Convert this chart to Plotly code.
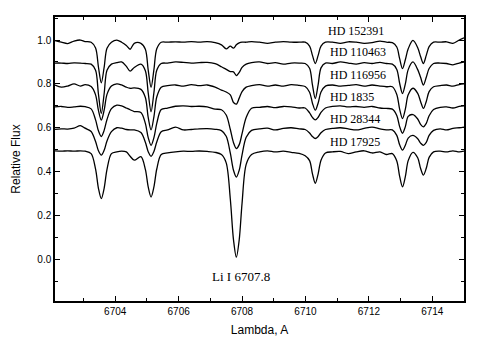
import plotly.graph_objects as go

# Wavelength grid (Angstrom), denser around the absorption lines
wl = [
    6702.10, 6702.30, 6702.50, 6702.70, 6702.90, 6703.05, 6703.24,
    6703.38, 6703.47, 6703.56, 6703.65, 6703.74, 6703.88,
    6704.05, 6704.20, 6704.35, 6704.47, 6704.60, 6704.81,
    6704.95, 6705.04, 6705.13, 6705.22, 6705.31, 6705.45,
    6705.65, 6705.90, 6706.15, 6706.40, 6706.65, 6706.90, 6707.15, 6707.35,
    6707.50, 6707.63, 6707.73, 6707.82, 6707.91, 6708.00, 6708.13, 6708.30,
    6708.55, 6708.80, 6709.05, 6709.30, 6709.55, 6709.80,
    6709.99, 6710.13, 6710.22, 6710.31, 6710.40, 6710.49, 6710.63,
    6710.85, 6711.10, 6711.35, 6711.60, 6711.85, 6712.10, 6712.35, 6712.55,
    6712.74, 6712.88, 6712.97, 6713.06, 6713.15, 6713.24, 6713.39,
    6713.54, 6713.63, 6713.72, 6713.81, 6713.90, 6714.04,
    6714.25, 6714.45, 6714.65, 6714.85, 6715.00,
]

# Shifted relative flux of each star
hd152391 = [
    0.997, 0.990, 0.984, 0.995, 1.000, 0.993, 0.990,
    0.964, 0.877, 0.805, 0.875, 0.963, 0.990,
    1.000, 0.990, 0.975, 0.958, 0.985, 0.985,
    0.958, 0.863, 0.784, 0.865, 0.960, 0.990,
    0.990, 0.992, 0.990, 0.993, 0.990, 0.993, 0.988, 0.978,
    0.960, 0.972, 0.963, 0.978, 0.987, 0.990, 0.990, 0.993,
    0.990, 0.985, 0.990, 0.993, 0.990, 0.990,
    0.990, 0.972, 0.930, 0.893, 0.930, 0.972, 0.990,
    0.990, 0.985, 0.992, 0.990, 0.985, 0.988, 0.995, 0.990,
    0.988, 0.968, 0.915, 0.870, 0.910, 0.960, 0.998,
    0.965, 0.925, 0.893, 0.930, 0.970, 0.990,
    0.990, 0.992, 0.985, 1.000, 1.010,
]
hd110463 = [
    0.895, 0.895, 0.893, 0.896, 0.895, 0.893, 0.890,
    0.862, 0.754, 0.665, 0.755, 0.862, 0.890,
    0.897, 0.900, 0.880, 0.858, 0.875, 0.890,
    0.860, 0.759, 0.673, 0.760, 0.862, 0.893,
    0.895, 0.900, 0.898, 0.895, 0.897, 0.898, 0.892, 0.878,
    0.866, 0.856, 0.855, 0.838, 0.852, 0.875, 0.890, 0.897,
    0.900, 0.893, 0.897, 0.890, 0.895, 0.895,
    0.893, 0.871, 0.795, 0.733, 0.797, 0.873, 0.895,
    0.893, 0.900, 0.895, 0.890, 0.897, 0.893, 0.898, 0.893,
    0.890, 0.866, 0.803, 0.756, 0.800, 0.865, 0.900,
    0.865, 0.830, 0.795, 0.830, 0.870, 0.893,
    0.895, 0.893, 0.887, 0.895, 0.900,
]
hd116956 = [
    0.795, 0.785, 0.790, 0.800, 0.790, 0.797, 0.788,
    0.750, 0.679, 0.635, 0.680, 0.752, 0.790,
    0.800, 0.795, 0.785, 0.780, 0.782, 0.775,
    0.738, 0.647, 0.590, 0.650, 0.740, 0.785,
    0.792, 0.795, 0.790, 0.797, 0.792, 0.795, 0.785, 0.772,
    0.763, 0.750, 0.715, 0.708, 0.735, 0.765, 0.785, 0.792,
    0.797, 0.790, 0.795, 0.790, 0.797, 0.793,
    0.788, 0.762, 0.712, 0.680, 0.713, 0.763, 0.790,
    0.795, 0.790, 0.793, 0.797, 0.790, 0.795, 0.790, 0.787,
    0.787, 0.752, 0.685, 0.642, 0.685, 0.750, 0.780,
    0.757, 0.720, 0.688, 0.720, 0.765, 0.787,
    0.792, 0.795, 0.790, 0.797, 0.800,
]
hd1835 = [
    0.695, 0.697, 0.693, 0.695, 0.698, 0.696, 0.686,
    0.636, 0.586, 0.560, 0.588, 0.638, 0.687,
    0.703, 0.700, 0.690, 0.682, 0.674, 0.670,
    0.620, 0.555, 0.520, 0.555, 0.620, 0.683,
    0.690, 0.698, 0.700, 0.697, 0.698, 0.695, 0.685, 0.682,
    0.658, 0.592, 0.532, 0.505, 0.523, 0.573, 0.647, 0.689,
    0.693, 0.697, 0.692, 0.697, 0.695, 0.690,
    0.690, 0.668, 0.647, 0.636, 0.648, 0.670, 0.690,
    0.697, 0.700, 0.695, 0.697, 0.693, 0.697, 0.690, 0.688,
    0.685, 0.656, 0.605, 0.575, 0.605, 0.652, 0.660,
    0.640, 0.615, 0.604, 0.620, 0.655, 0.683,
    0.693, 0.695, 0.690, 0.697, 0.700,
]
hd28344 = [
    0.593, 0.595, 0.594, 0.598, 0.610, 0.598, 0.583,
    0.537, 0.495, 0.475, 0.497, 0.540, 0.582,
    0.600, 0.598, 0.592, 0.590, 0.590, 0.578,
    0.534, 0.491, 0.470, 0.492, 0.535, 0.582,
    0.590, 0.603, 0.590, 0.592, 0.595, 0.596, 0.593, 0.587,
    0.561, 0.484, 0.406, 0.375, 0.406, 0.476, 0.557, 0.588,
    0.595, 0.598, 0.590, 0.597, 0.600, 0.595,
    0.592, 0.576, 0.560, 0.551, 0.560, 0.577, 0.592,
    0.597, 0.600, 0.595, 0.590, 0.597, 0.603, 0.595, 0.590,
    0.590, 0.565, 0.522, 0.498, 0.520, 0.553, 0.565,
    0.550, 0.530, 0.520, 0.533, 0.565, 0.588,
    0.595, 0.590, 0.597, 0.600, 0.603,
]
hd17925 = [
    0.495, 0.493, 0.495, 0.493, 0.495, 0.493, 0.482,
    0.411, 0.324, 0.277, 0.324, 0.410, 0.482,
    0.490, 0.493, 0.490, 0.470, 0.452, 0.468,
    0.410, 0.330, 0.284, 0.330, 0.412, 0.478,
    0.485, 0.490, 0.493, 0.492, 0.494, 0.492, 0.488, 0.478,
    0.440, 0.274, 0.089, 0.010, 0.089, 0.256, 0.433, 0.478,
    0.490, 0.495, 0.490, 0.493, 0.488, 0.483,
    0.472, 0.450, 0.390, 0.347, 0.390, 0.452, 0.485,
    0.490, 0.492, 0.482, 0.490, 0.495, 0.485, 0.490, 0.478,
    0.482, 0.448, 0.378, 0.330, 0.377, 0.450, 0.488,
    0.463, 0.415, 0.384, 0.415, 0.465, 0.490,
    0.493, 0.490, 0.495, 0.490, 0.493,
]

star_names = ["HD 152391", "HD 110463", "HD 116956", "HD 1835", "HD 28344", "HD 17925"]
star_flux = [hd152391, hd110463, hd116956, hd1835, hd28344, hd17925]
label_y = [1.042, 0.945, 0.84, 0.74, 0.64, 0.534]

fig = go.Figure()

for name, flux in zip(star_names, star_flux):
    fig.add_trace(go.Scatter(
        x=wl, y=flux,
        mode='lines',
        name=name,
        line=dict(color='black', width=1.3, shape='spline', smoothing=0.9),
        showlegend=False,
    ))

# star labels
for i, (name, ly) in enumerate(zip(star_names, label_y)):
    fig.add_annotation(
        x=6710.66 if i == 0 else 6710.72, y=ly,
        text=name, showarrow=False, xanchor='left', yanchor='middle',
        font=dict(family='Liberation Serif', size=12, color='black'),
    )

fig.add_annotation(
    x=6707.0, y=-0.079, text='Li I 6707.8', showarrow=False,
    xanchor='left', yanchor='middle',
    font=dict(family='Liberation Serif', size=13, color='black'),
)

axis_style = dict(
    showline=True, linecolor='black', linewidth=1.5, mirror='ticks',
    ticks='inside', ticklen=5, tickwidth=1, tickcolor='black',
    showgrid=False, zeroline=False, automargin=False,
    tickfont=dict(family='Liberation Sans', size=10, color='black'),
)

fig.update_xaxes(
    range=[6702.1, 6715.0], tick0=6704, dtick=2,
    minor=dict(ticks='inside', dtick=1, ticklen=3, tickcolor='black'),
    title=dict(text='Lambda, A', standoff=10,
               font=dict(family='Liberation Sans', size=12, color='black')),
    **axis_style,
)
fig.update_yaxes(
    range=[-0.19, 1.105], tick0=0, dtick=0.2, tickformat='.1f',
    minor=dict(ticks='inside', dtick=0.1, ticklen=3, tickcolor='black'),
    title=dict(text='Relative Flux', standoff=14,
               font=dict(family='Liberation Sans', size=12, color='black')),
    **axis_style,
)

fig.update_layout(
    width=480, height=346,
    margin=dict(l=55, r=16, t=17, b=45),
    paper_bgcolor='white', plot_bgcolor='white',
)

# drop the page's default body margin so the figure sits at the window corner
fig.write_html("out.html", config={'displayModeBar': False},
               post_script="document.body.style.margin='0';")
